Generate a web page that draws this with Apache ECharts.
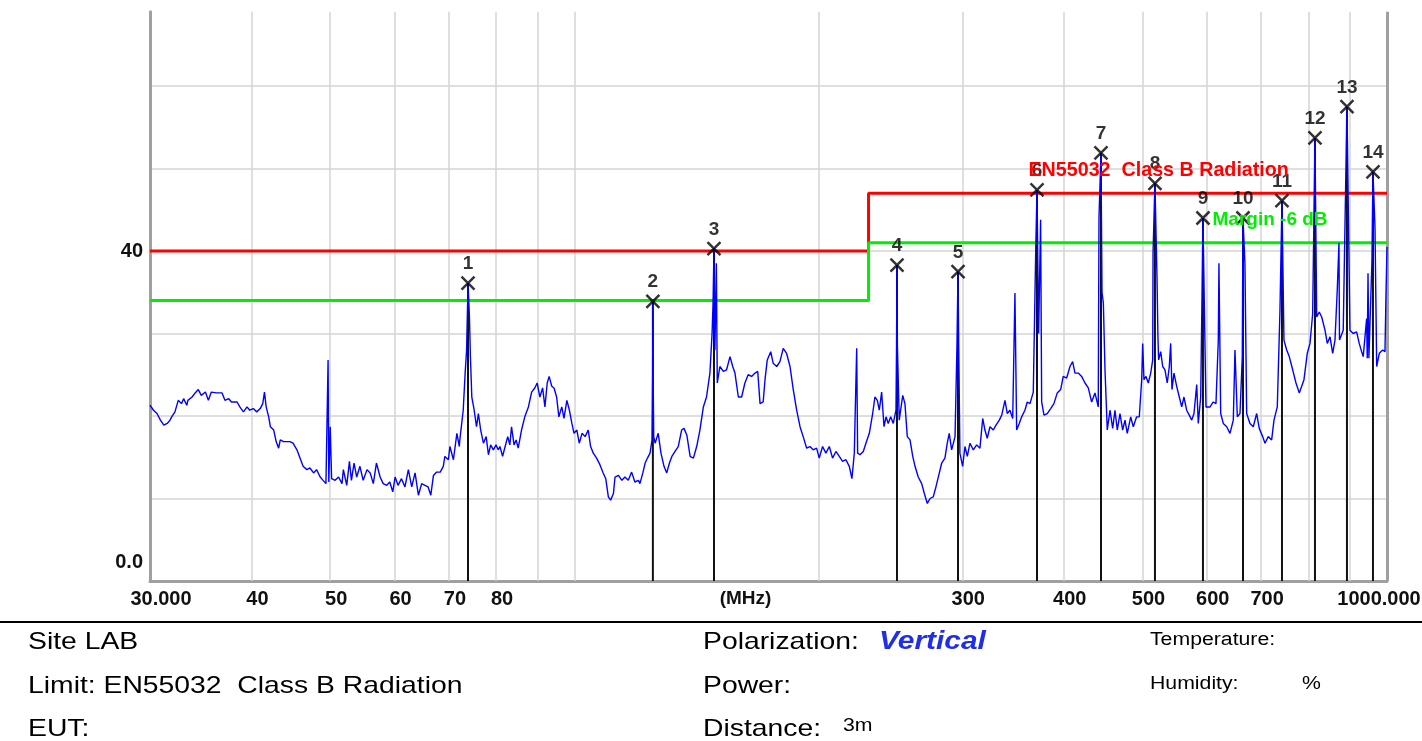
<!DOCTYPE html>
<html><head><meta charset="utf-8">
<script src="https://cdn.jsdelivr.net/npm/echarts@6/dist/echarts.min.js"></script>
<style>html,body{margin:0;padding:0;background:#fff;}#chart{width:1422px;height:741px;}</style>
</head><body><div id="chart"></div>
<script>
// Measured trace (frequency MHz, level dBuV/m)
const freqMHz = [30.0,30.3,30.6,30.7,30.9,31.2,31.5,31.75,31.9,32.2,
32.5,32.8,33.0,33.3,33.4,33.8,34.1,34.4,34.7,35.1,
35.4,35.7,36.2,36.8,37.1,37.5,37.8,38.4,38.7,39.1,
39.5,39.8,40.2,40.6,41.0,41.3,41.5,41.7,42.0,42.2,
42.6,42.9,43.2,43.4,43.8,44.2,44.6,45.0,45.5,45.9,
46.3,46.8,47.2,47.7,48.1,48.6,49.0,49.4,49.7,49.8,
50.0,50.2,50.7,51.2,51.7,51.9,52.4,52.8,53.1,53.5,
53.9,54.4,54.9,55.5,56.0,56.5,57.0,57.6,58.1,58.7,
59.2,59.7,60.1,60.6,61.2,61.8,62.4,63.0,63.6,64.2,
64.8,65.4,66.0,66.5,67.0,67.6,68.3,68.9,69.2,69.9,
70.2,70.9,71.6,72.1,72.2,72.9,73.3,73.6,73.9,74.2,
74.4,74.7,75.2,75.7,76.1,76.6,77.2,77.8,78.3,78.8,
79.4,80.0,80.5,80.9,81.5,82.1,82.7,83.2,83.6,84.2,
84.7,85.2,86.0,86.8,87.7,88.5,89.3,89.9,90.6,91.3,
91.9,92.5,93.0,93.7,94.3,95.0,95.6,96.4,97.0,97.8,
98.5,99.2,99.8,100.6,101.3,102.1,103.0,103.9,104.6,105.4,
106.4,107.4,108.4,109.2,110.0,110.7,111.6,112.1,113.2,114.3,
115.3,116.4,117.5,118.6,119.8,120.3,121.3,122.1,122.9,123.8,
124.5,124.7,124.8,124.9,125.1,125.6,126.7,127.7,128.8,129.8,
130.8,131.7,132.9,134.1,135.4,136.3,137.4,138.7,140.0,141.3,
142.6,144.0,145.3,146.7,147.6,148.0,148.4,148.8,149.4,149.8,
150.9,152.4,153.8,155.3,156.5,157.5,159.0,160.5,162.0,163.5,
165.1,166.7,168.0,169.1,170.6,171.5,172.6,174.3,175.5,177.3,
178.9,180.6,182.3,184.1,185.8,187.6,189.4,191.1,193.0,194.8,
196.6,198.5,200.0,201.9,203.8,205.8,207.7,209.7,211.7,213.7,
215.7,217.8,219.4,220.9,221.8,222.4,223.0,224.5,226.6,228.3,
230.5,232.7,234.2,235.8,237.1,238.7,240.3,241.7,243.2,244.9,
246.7,248.6,249.0,249.3,249.6,250.9,253.4,255.0,256.7,258.7,
260.7,262.4,264.8,267.4,269.4,271.7,273.8,276.3,278.4,280.3,
283.0,285.6,287.5,289.1,291.1,293.9,295.5,296.4,297.0,298.0,
300.3,302.3,304.3,306.6,309.5,312.5,315.4,317.9,319.9,322.0,
324.5,327.6,330.1,333.2,335.5,338.6,340.8,343.4,346.1,348.3,
350.0,352.6,355.0,358.3,360.7,363.5,366.9,369.5,370.8,372.5,
374.6,375.7,378.2,381.7,385.4,389.0,392.7,396.5,399.4,403.3,
407.1,410.2,412.9,416.8,420.8,424.8,428.8,432.9,437.0,441.1,
442.0,444.5,445.8,447.5,449.6,452.5,456.0,459.5,462.5,465.5,
469.1,472.7,475.8,478.9,483.6,487.1,491.8,495.5,498.9,500.3,
502.1,505.0,508.3,511.8,514.7,515.2,518.0,521.0,522.4,523.4,
526.5,529.5,532.9,536.4,539.5,541.6,543.6,546.7,550.9,555.0,
558.8,562.4,566.7,570.9,574.9,578.6,583.1,585.7,589.7,591.9,
593.5,598.6,605.5,611.1,615.8,619.9,621.0,624.1,628.7,634.8,
640.8,646.8,649.9,654.2,659.2,663.5,664.8,668.5,671.8,678.1,
684.5,691.1,696.2,703.0,707.6,714.2,721.1,725.9,732.7,738.3,
742.5,746.7,752.5,758.0,765.4,772.6,779.8,785.2,790.3,797.7,
803.9,810.0,815.3,819.3,825.3,831.0,838.8,844.3,850.8,857.3,
862.9,868.5,872.7,874.0,883.3,892.7,900.3,908.7,917.5,924.3,
930.6,934.8,943.9,945.5,947.6,950.0,958.3,961.0,966.5,971.2,
978.4,987.9,994.3,997.0,1000];
const levelDb = [21.3,20.7,20.3,20.5,19.5,18.9,19.1,19.5,19.9,20.5,
21.9,21.5,22.1,21.3,21.9,22.3,22.8,23.2,22.5,22.9,
21.9,22.9,22.8,22.8,21.9,22.1,21.7,21.7,21.1,20.5,
21.1,20.7,20.9,20.5,20.9,21.5,22.9,21.1,19.9,18.7,
18.3,16.9,16.1,17.1,16.9,16.9,16.9,16.7,15.9,14.9,
13.9,13.5,13.7,13.1,13.5,12.6,12.2,11.8,26.8,12.0,
18.7,12.4,12.2,12.6,11.8,13.5,11.6,14.5,12.2,14.3,
12.6,13.9,12.2,13.5,13.1,11.8,14.3,12.6,11.8,11.6,
12.0,10.8,12.6,11.6,12.4,11.4,13.5,11.4,13.1,10.4,
11.8,11.6,11.4,10.4,12.8,13.2,13.2,13.9,15.1,14.7,
16.3,14.7,17.9,16.3,17.1,20.7,25.2,28.0,36.1,32.0,
27.2,22.3,20.7,18.7,20.3,18.3,16.7,17.5,15.3,16.5,
15.9,16.5,15.9,16.3,15.1,16.3,17.5,16.5,18.7,16.5,
17.1,16.1,18.3,19.9,21.1,22.9,23.4,24.0,22.3,23.4,
21.1,24.0,24.8,23.6,23.4,22.3,19.9,21.1,19.7,21.9,
20.7,19.1,17.9,18.3,16.7,17.9,17.5,18.3,16.3,15.5,
14.9,14.1,13.1,12.4,10.2,9.8,10.6,12.6,12.8,12.2,
12.6,12.2,13.2,12.0,12.2,11.8,13.1,14.3,14.9,15.5,
17.1,24.7,33.9,24.7,17.5,16.7,17.9,15.5,13.9,13.1,
14.3,15.1,15.7,16.3,18.3,18.5,17.7,15.1,14.9,16.3,
18.3,21.1,22.3,25.2,30.0,33.5,40.3,28.0,38.5,24.0,
26.0,25.4,25.6,27.2,26.0,25.2,22.3,22.3,24.0,25.0,
24.8,25.2,25.4,21.5,21.7,24.4,26.8,27.8,26.4,26.0,
26.6,28.2,27.6,26.0,23.2,20.7,18.7,17.5,16.1,16.3,
15.9,16.1,14.9,16.3,15.5,16.3,14.9,15.7,15.1,14.5,
14.7,13.9,12.4,15.5,23.2,28.2,15.5,15.3,15.7,16.7,
17.9,20.3,22.3,21.9,20.7,22.9,18.7,19.9,19.1,19.9,
19.1,20.7,28.6,38.3,28.6,19.5,22.5,21.5,17.5,17.1,
15.1,13.9,12.6,11.8,10.6,9.4,10.0,10.2,11.4,12.6,
14.3,14.9,16.7,17.9,15.9,17.5,28.4,37.5,28.4,15.5,
13.9,16.3,15.1,16.7,15.9,16.5,16.1,19.7,18.3,17.3,
18.7,18.3,18.9,19.5,20.1,21.9,20.3,20.7,19.7,34.9,
18.3,19.1,19.9,20.7,21.7,21.5,22.9,40.5,47.4,30.0,
43.8,21.7,20.1,20.3,20.9,21.5,22.8,23.2,24.8,24.6,
26.0,26.6,25.2,25.2,24.8,24.0,23.4,21.7,22.8,21.1,
44.0,51.9,35.0,33.7,25.6,18.3,20.7,18.5,20.7,18.3,
20.3,18.3,19.5,17.9,19.9,18.7,19.9,19.9,24.4,28.8,
24.4,24.8,24.0,25.2,26.8,39.8,48.2,36.8,29.6,26.8,
27.8,26.0,25.6,24.0,26.0,28.8,23.2,25.2,23.6,22.3,
21.1,22.3,20.7,20.1,19.5,20.3,23.8,19.1,22.3,34.4,
44.0,21.1,21.1,21.7,21.5,29.2,38.5,20.3,19.1,18.7,
17.9,19.5,28.0,19.9,20.3,27.2,44.0,38.5,20.3,19.1,
18.7,20.3,18.5,17.5,16.7,17.5,17.1,19.5,21.1,32.8,
46.1,29.2,28.0,27.2,25.6,24.0,22.8,23.6,24.4,27.6,
28.8,32.4,53.7,32.0,32.6,32.0,30.4,28.8,29.6,27.6,
29.2,35.3,41.0,29.2,30.4,57.5,30.4,30.0,30.2,28.8,
27.8,27.2,31.8,27.0,37.3,27.0,38.9,49.6,42.9,26.0,
27.6,28.0,27.8,34.4,40.5];

// Markers
const markerFreq = [73.9,124.8,148.4,249.3,296.4,370.8,444.5,518.0,593.5,664.8,742.5,815.3,892.7,961.0];
const markerLevel = [36.1,33.9,40.3,38.3,37.5,47.4,51.9,48.2,44.0,44.0,46.1,53.7,57.5,49.6];
const markerNames = ['1','2','3','4','5','6','7','8','9','10','11','12','13','14'];

// Limit and margin lines
const limitFreq = [30, 230, 230, 1000];
const limitLevel = [40, 40, 47, 47];
const marginLevel = [34, 34, 41, 41];
const limitName = 'EN55032  Class B Radiation';
const marginName = 'Margin -6 dB';
const limitTextAt = [361.4, 49.8];
const marginTextAt = [608.9, 43.8];

// Axis ticks
const gridFreq = [30,40,50,60,70,80,90,100,200,300,400,500,600,700,800,900,1000];
const gridLabels = ['30.000','40','50','60','70','80','','','','300','400','500','600','700','','','1000.000'];
const yLabelValues = [0, 40];
const yLabelTexts = ['0.0\n \n ', '40'];

const FONT = '"Liberation Sans", Arial, sans-serif';
const traceData = freqMHz.map((f, i) => [f, levelDb[i]]);
const stemData = [];
markerFreq.forEach((f, i) => { stemData.push([f, 0], [f, markerLevel[i]], [f, '-']); });

const chart = echarts.init(document.getElementById('chart'), null, {renderer: 'canvas'});
const labelPad = (i) => i === 0 ? [0, 0, 0, 22] : (i === gridFreq.length - 1 ? [0, 16, 0, 0] : [0, 0, 0, 12]);

const info = [
  ['Site LAB', 28, 642, 24, 'normal', 'normal', '#000', 1.18],
  ['Limit: EN55032  Class B Radiation', 28, 686, 24, 'normal', 'normal', '#000', 1.18],
  ['EUT:', 28, 729, 24, 'normal', 'normal', '#000', 1.18],
  ['Polarization:', 703, 642, 24, 'normal', 'normal', '#000', 1.18],
  ['Vertical', 879, 642, 26, 'bold', 'italic', '#1f2fe8', 1.15],
  ['Power:', 703, 686, 24, 'normal', 'normal', '#000', 1.18],
  ['Distance:', 703, 729, 24, 'normal', 'normal', '#000', 1.18],
  ['3m', 843, 726, 18, 'normal', 'normal', '#000', 1.18],
  ['Temperature:', 1150, 640, 18, 'normal', 'normal', '#000', 1.18],
  ['Humidity:', 1150, 684, 18, 'normal', 'normal', '#000', 1.18],
  ['%', 1302, 684, 18, 'normal', 'normal', '#000', 1.18]
];

const option = {
  animation: false,
  backgroundColor: '#ffffff',
  grid: {left: 150, right: 35, top: 11.75, bottom: 160, containLabel: false},
  xAxis: {
    type: 'log', logBase: 10, min: 30, max: 1000,
    axisLine: {show: true, onZero: false, lineStyle: {color: '#a0a0a0', width: 3}},
    axisTick: {show: false}, axisLabel: {show: false}, splitLine: {show: false}, minorSplitLine: {show: false},
    name: '(MHz)', nameLocation: 'middle', nameGap: 8,
    nameTextStyle: {fontFamily: FONT, fontSize: 19, fontWeight: 'bold', color: '#111', padding: [0, 46, 0, 0], verticalAlign: 'top'}
  },
  yAxis: {
    type: 'value', min: 0, max: 69, interval: 10,
    axisLine: {show: true, lineStyle: {color: '#a0a0a0', width: 3}},
    axisTick: {show: false},
    splitLine: {show: true, showMaxLine: false, lineStyle: {color: '#d4d4d4', width: 1.5}},
    axisLabel: {
      margin: 7, fontFamily: FONT, fontSize: 20, fontWeight: 'bold', color: '#111', lineHeight: 19,
      formatter: (v) => { const k = yLabelValues.indexOf(v); return k >= 0 ? yLabelTexts[k] : ''; }
    }
  },
  series: [
    {
      name: 'grid', type: 'line', data: [[30, 0]], symbol: 'none', silent: true,
      lineStyle: {width: 0, opacity: 0}, z: 1,
      markLine: {
        silent: true, z: 1, symbol: ['none', 'none'], animation: false,
        data: gridFreq.map((f, i) => ({
          xAxis: f,
          lineStyle: (i === 0 || i === gridFreq.length - 1) ? {color: '#a0a0a0', width: 3, type: 'solid'} : {color: '#d4d4d4', width: 1.5, type: 'solid'},
          label: {show: gridLabels[i] !== '', position: 'start', distance: 8, formatter: gridLabels[i] || ' ',
                  fontFamily: FONT, fontSize: 20, fontWeight: 'bold', color: '#111', padding: labelPad(i)}
        }))
      }
    },
    {
      name: 'Limit', type: 'line', data: limitFreq.map((f, i) => [f, limitLevel[i]]), symbol: 'none', z: 2,
      lineStyle: {color: '#ff0000', width: 3}, itemStyle: {color: '#ff0000'},
      markPoint: {
        symbol: 'circle', symbolSize: 1, itemStyle: {color: 'rgba(0,0,0,0)'}, z: 6,
        data: [{coord: limitTextAt, label: {show: true, position: 'right', distance: 0, formatter: limitName,
          fontFamily: FONT, fontSize: 19.7, fontWeight: 'bold', color: '#ff0000'}}]
      }
    },
    {
      name: 'Margin', type: 'line', data: limitFreq.map((f, i) => [f, marginLevel[i]]), symbol: 'none', z: 2,
      lineStyle: {color: '#00ee00', width: 3}, itemStyle: {color: '#00ee00'},
      markPoint: {
        symbol: 'circle', symbolSize: 1, itemStyle: {color: 'rgba(0,0,0,0)'}, z: 6,
        data: [{coord: marginTextAt, label: {show: true, position: 'right', distance: 0, formatter: marginName,
          fontFamily: FONT, fontSize: 19, fontWeight: 'bold', color: '#00ee00'}}]
      }
    },
    {
      name: 'stems', type: 'line', data: stemData, symbol: 'none', connectNulls: false, z: 2,
      lineStyle: {color: '#111', width: 2}
    },
    {
      name: 'Trace', type: 'line', data: traceData, symbol: 'none', z: 3,
      lineStyle: {color: '#0000ff', width: 1.4}, itemStyle: {color: '#0000ff'}
    },
    {
      name: 'Markers', type: 'scatter', z: 4,
      data: markerFreq.map((f, i) => [f, markerLevel[i]]),
      symbol: 'path://M0,0L10,10M10,0L0,10', symbolSize: 13,
      itemStyle: {color: 'rgba(0,0,0,0)', borderColor: '#000', borderWidth: 2.5},
      label: {show: true, position: 'top', distance: 2, formatter: (p) => markerNames[p.dataIndex],
        fontFamily: FONT, fontSize: 19, fontWeight: 'bold', color: '#000'}
    }
  ],
  graphic: [
    {type: 'line', shape: {x1: 0, y1: 622, x2: 1422, y2: 622}, style: {stroke: '#000', lineWidth: 2}, z: 10}
  ].concat(info.map(t => ({
    type: 'text', x: t[1], y: t[2], scaleX: t[7], z: 10,
    style: {text: t[0], fill: t[6], fontFamily: FONT, fontSize: t[3], fontWeight: t[4], fontStyle: t[5], align: 'left', verticalAlign: 'middle'}
  })))
};
chart.setOption(option);
</script></body></html>
